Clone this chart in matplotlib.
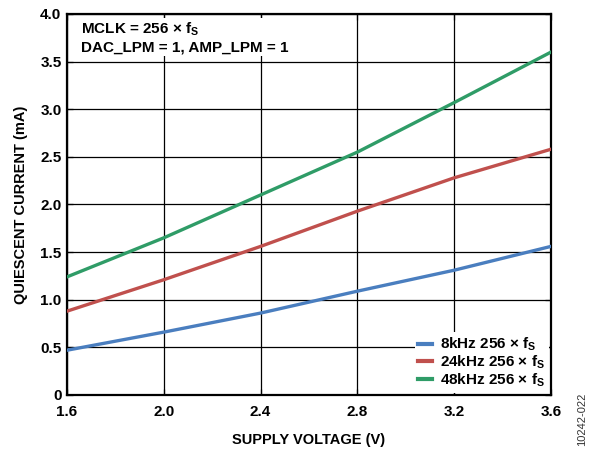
import matplotlib
matplotlib.use("Agg")
import matplotlib.pyplot as plt

plt.rcParams['font.family'] = ['Liberation Sans', 'DejaVu Sans']
plt.rcParams['font.weight'] = 'bold'
plt.rcParams['mathtext.fontset'] = 'custom'
plt.rcParams['mathtext.rm'] = 'Liberation Sans:bold'
plt.rcParams['mathtext.it'] = 'Liberation Sans:bold'
plt.rcParams['mathtext.bf'] = 'Liberation Sans:bold'

# supply voltage (V) and quiescent current (mA)
voltage = [1.6, 2.0, 2.4, 2.8, 3.2, 3.6]
i_8k = [0.47, 0.66, 0.86, 1.09, 1.31, 1.56]
i_24k = [0.88, 1.21, 1.56, 1.93, 2.28, 2.58]
i_48k = [1.24, 1.65, 2.10, 2.55, 3.07, 3.60]

labels = [r'8kHz 256 × f$_\mathrm{S}$', r'24kHz 256 × f$_\mathrm{S}$', r'48kHz 256 × f$_\mathrm{S}$']
colors = ['#4a7ebf', '#c0504d', '#2f9c67']

xticks = [1.6, 2.0, 2.4, 2.8, 3.2, 3.6]
yticks = [0, 0.5, 1.0, 1.5, 2.0, 2.5, 3.0, 3.5, 4.0]
yticklabels = ['0', '0.5', '1.0', '1.5', '2.0', '2.5', '3.0', '3.5', '4.0']

fig = plt.figure(figsize=(5.91, 4.51), dpi=100)
ax = fig.add_axes([0.1134, 0.1242, 0.8189, 0.8448])

for y, lab, c in zip([i_8k, i_24k, i_48k], labels, colors):
    ax.plot(voltage, y, color=c, lw=2.4, label=lab, zorder=3)

ax.set_xlim(1.6, 3.6)
ax.set_ylim(0, 4.0)
ax.set_xticks(xticks)
ax.set_xticklabels(['%.1f' % v for v in xticks])
ax.set_yticks(yticks)
ax.set_yticklabels(yticklabels)
ax.grid(True, color='black', lw=0.9)
ax.tick_params(direction='in', length=4, width=0.9, labelsize=11,
               top=True, right=True)
ax.tick_params(axis='x', pad=7)
ax.tick_params(axis='y', pad=4)
for s in ax.spines.values():
    s.set_linewidth(1.6)

ax.set_xlabel('SUPPLY VOLTAGE (V)', fontsize=10.5, fontweight='bold', labelpad=10)
ax.set_ylabel('QUIESCENT CURRENT (mA)', fontsize=10.5, fontweight='bold', labelpad=9)

ax.text(0.028, 0.982, 'MCLK = 256 × f$_\\mathrm{S}$\nDAC_LPM = 1, AMP_LPM = 1',
        transform=ax.transAxes, ha='left', va='top', fontsize=11,
        fontweight='bold', linespacing=1.2, zorder=5,
        bbox=dict(facecolor='white', edgecolor='none', pad=1))

leg = ax.legend(loc='lower right', frameon=True, fontsize=11, handlelength=0.9,
                handletextpad=0.5, labelspacing=0.02, borderaxespad=0.15,
                borderpad=0.25)
leg.get_frame().set_edgecolor('none')
leg.get_frame().set_facecolor('white')
leg.get_frame().set_alpha(1)
leg.set_zorder(6)
for line in leg.get_lines():
    line.set_linewidth(3)

fig.text(0.985, 0.07, '10242-022', rotation=90, fontsize=8, fontweight='normal',
         ha='center', va='center', color='#333333')

fig.savefig('out.png', dpi=100)
